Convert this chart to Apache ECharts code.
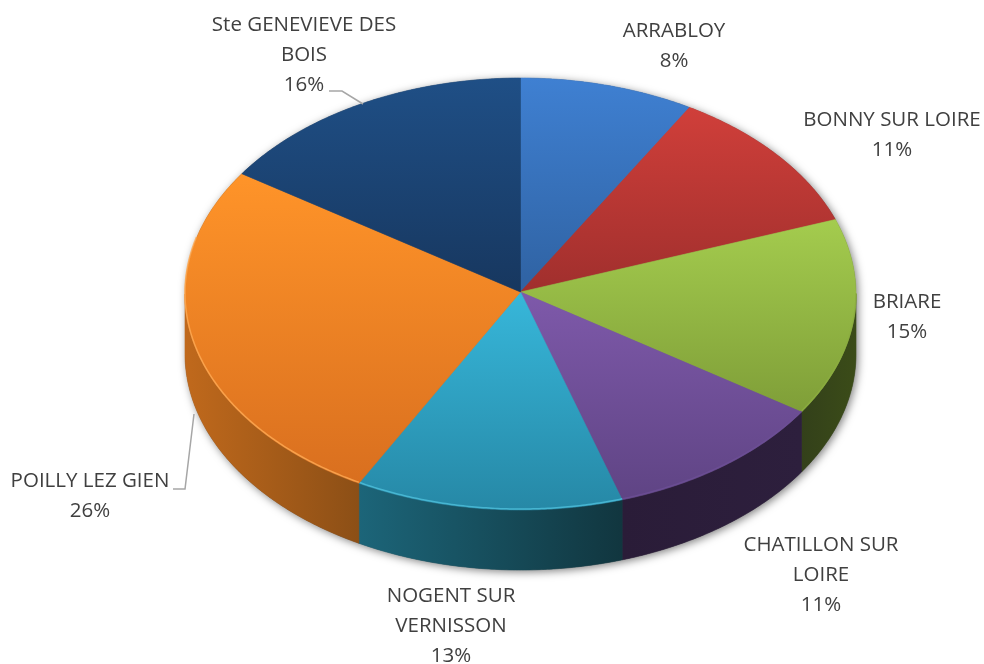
<!DOCTYPE html>
<html>
<head>
<meta charset="utf-8">
<title>Camembert</title>
<script src="https://cdn.jsdelivr.net/npm/echarts@6/dist/echarts.min.js"></script>
<style>
    html, body { margin: 0; padding: 0; background: #fff; }
    #chart { width: 984px; height: 664px; }
</style>
</head>
<body>
<div id="chart"></div>
<script>
// shares (the labels round them)
var categories = ["ARRABLOY", "BONNY SUR LOIRE", "BRIARE", "CHATILLON SUR LOIRE",
    "NOGENT SUR VERNISSON", "POILLY LEZ GIEN", "Ste GENEVIEVE DES BOIS"];
var values = [8.4, 11.0, 14.8, 10.9, 12.9, 26.4, 15.6];
var labelLines = ["ARRABLOY", "BONNY SUR LOIRE", "BRIARE", "CHATILLON SUR\nLOIRE",
    "NOGENT SUR\nVERNISSON", "POILLY LEZ GIEN", "Ste GENEVIEVE DES\nBOIS"];

// top face gradient, side face gradient
var topColors = [["#3f80d2", "#2f62a2"], ["#d03f3a", "#a02f2d"], ["#a4cc4e", "#7f9e38"],
    ["#7e59aa", "#5f4484"], ["#37b7da", "#2688a6"], ["#ff9429", "#d96f1f"], ["#1f4f86", "#17375f"]];
var sideColors = [["#2f62a2", "#2f62a2"], ["#a02f2d", "#a02f2d"], ["#33401a", "#3b4c18"],
    ["#2a1c38", "#2d1f3d"], ["#1c6579", "#11363f"], ["#c0691c", "#8c4f16"], ["#17375f", "#17375f"]];
var rimColors = ["#5a95dd", "#dd5a55", "#8cae40", "#6d4f96", "#4fc0dc", "#ffab55", "#3a6aa0"];

// layout: ellipse of the pie and where the labels sit
var pie = {cx: 520.5, cy: 294, apexY: 292, rx: 335.5, ry: 216, depth: 60};
var labelPos = [[674, 46], [892, 135], [907, 317], [821, 575], [451, 626], [90, 496], [304, 55]];
var leaders = [
    [[329, 91], [342, 91], [363, 104]],
    [[173, 489], [185, 489], [194, 414]]
];

var total = values.reduce(function (a, b) { return a + b; }, 0);
var starts = [];
values.reduce(function (sum, v, i) {
    starts[i] = sum;
    return sum + v;
}, 0);

// deg is clockwise from the top of the pie
var point = function (deg, dy) {
    var t = deg * Math.PI / 180;
    return [pie.cx + pie.rx * Math.sin(t), pie.cy - pie.ry * Math.cos(t) + (dy || 0)];
};

var arc = function (from, to, dy) {
    var pts = [];
    for (var d = from; d < to; d += 0.5) {
        pts.push(point(d, dy));
    }
    pts.push(point(to, dy));
    return pts;
};

var sliceRange = function (i) {
    return [starts[i] / total * 360, (starts[i] + values[i]) / total * 360];
};

var vertical = function (c) {
    return new echarts.graphic.LinearGradient(0, 0, 0, 1, [{offset: 0, color: c[0]}, {offset: 1, color: c[1]}]);
};

var horizontal = function (c) {
    return new echarts.graphic.LinearGradient(0, 0, 1, 0, [{offset: 0, color: c[0]}, {offset: 1, color: c[1]}]);
};

var renderShadow = function () {
    return {
        type: "polygon",
        shape: {points: arc(90, 270, pie.depth).concat(arc(270, 450, 0))},
        style: {fill: "#555", shadowBlur: 8, shadowColor: "rgba(0,0,0,0.5)", shadowOffsetX: 2, shadowOffsetY: 2}
    };
};

var renderSide = function (params) {
    var r = sliceRange(params.dataIndex),
        from = Math.max(r[0], 90),
        to = Math.min(r[1], 270),
        fill = horizontal(sideColors[params.dataIndex]);
    if (to <= from) {
        return {type: "group", children: []};
    }
    return {
        type: "polygon",
        shape: {points: arc(from, to, 0).concat(arc(from, to, pie.depth).reverse())},
        style: {fill: fill, stroke: fill, lineWidth: 0.6}
    };
};

var renderTop = function (params) {
    var i = params.dataIndex,
        r = sliceRange(i),
        fill = vertical(topColors[i]),
        children = [{
            type: "polygon",
            shape: {points: [[pie.cx, pie.apexY]].concat(arc(r[0], r[1], 0))},
            style: {fill: fill, stroke: fill, lineWidth: 0.6}
        }],
        from = Math.max(r[0], 90),
        to = Math.min(r[1], 285);
    if (to > from) {
        children.push({
            type: "polyline",
            shape: {points: arc(from, to, -1)},
            style: {fill: null, stroke: rimColors[i], lineWidth: 1.5, opacity: 0.8}
        });
    }
    return {type: "group", children: children};
};

var renderLabel = function (params) {
    var i = params.dataIndex;
    return {
        type: "text",
        style: {
            text: labelLines[i] + "\n" + Math.round(values[i]) + "%",
            x: labelPos[i][0],
            y: labelPos[i][1],
            align: "center",
            verticalAlign: "middle",
            fill: "#404040",
            font: "20.5px 'Open Sans'",
            lineHeight: 30
        }
    };
};

var renderLeader = function (params) {
    return {
        type: "polyline",
        shape: {points: leaders[params.dataIndex]},
        style: {fill: null, stroke: "#a6a6a6", lineWidth: 1.5}
    };
};

var custom = function (name, data, render, z) {
    return {
        type: "custom",
        name: name,
        coordinateSystem: "none",
        data: data,
        renderItem: render,
        z: z,
        silent: true,
        animation: false
    };
};

var chart = echarts.init(document.getElementById("chart"), null, {renderer: "canvas"});
chart.setOption({
    backgroundColor: "#ffffff",
    animation: false,
    series: [
        custom("ombre", [0], renderShadow, 1),
        custom("cotes", values, renderSide, 2),
        custom("parts", values, renderTop, 3),
        custom("reperes", leaders.map(function (l, i) { return i; }), renderLeader, 4),
        custom("etiquettes", categories, renderLabel, 5)
    ]
});
</script>
</body>
</html>
